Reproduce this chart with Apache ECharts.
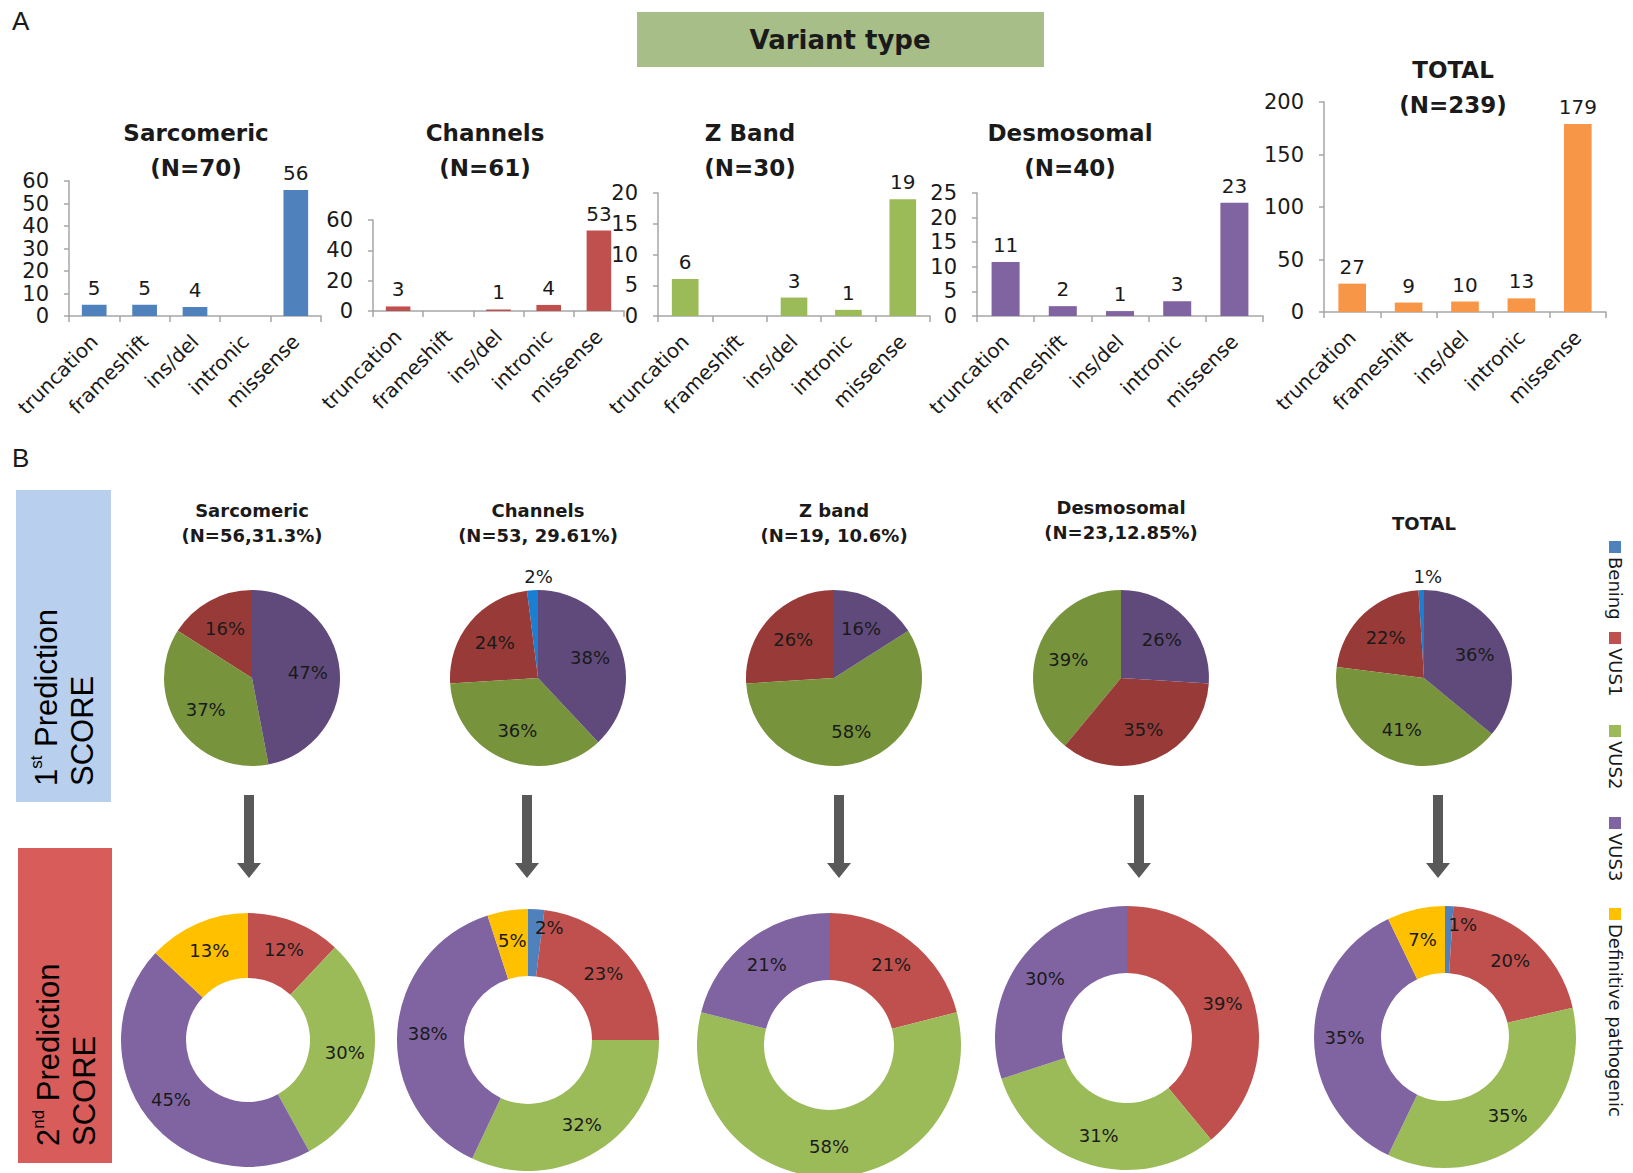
<!DOCTYPE html>
<html>
<head>
<meta charset="utf-8">
<script src="https://cdn.jsdelivr.net/npm/echarts@6/dist/echarts.min.js"></script>
<style>
  html, body { margin: 0; padding: 0; background: #fff; }
  #chart { width: 1633px; height: 1173px; }
</style>
</head>
<body>
<div id="chart"></div>
<script>
// --- panel A: variant type counts
const barCats = ['truncation', 'frameshift', 'ins/del', 'intronic', 'missense']
const sarcomeric = [5, 5, 4, 0, 56]
const channels = [3, 0, 1, 4, 53]
const zband = [6, 0, 3, 1, 19]
const desmosomal = [11, 2, 1, 3, 23]
const total = [27, 9, 10, 13, 179]
const yMax = [60, 60, 20, 25, 200]
const yStep = [10, 20, 5, 5, 50]
const barTitles = [
  ['Sarcomeric', '(N=70)'],
  ['Channels', '(N=61)'],
  ['Z Band', '(N=30)'],
  ['Desmosomal', '(N=40)'],
  ['TOTAL', '(N=239)']
]

// --- panel B: prediction scores (%), order = pieCats
const pieCats = ['Bening', 'VUS1', 'VUS2', 'VUS3', 'Definitive pathogenic']
const firstSarcomeric = [0, 16, 37, 47]
const firstChannels = [2, 24, 36, 38]
const firstZband = [0, 26, 58, 16]
const firstDesmosomal = [0, 35, 39, 26]
const firstTotal = [1, 22, 41, 36]
const secondSarcomeric = [0, 12, 30, 45, 13]
const secondChannels = [2, 23, 32, 38, 5]
const secondZband = [0, 21, 58, 21, 0]
const secondDesmosomal = [0, 39, 31, 30, 0]
const secondTotal = [1, 20, 35, 35, 7]
const pieTitles = [
  ['Sarcomeric', '(N=56,31.3%)'],
  ['Channels', '(N=53, 29.61%)'],
  ['Z band', '(N=19, 10.6%)'],
  ['Desmosomal', '(N=23,12.85%)'],
  ['TOTAL']
]

const barColors = ['#4f81bd', '#c0504d', '#9bbb59', '#8064a2', '#f79646']
const firstColors = ['#1a7fd2', '#983a37', '#77933c', '#5f4a7b']
const secondColors = ['#4f81bd', '#c0504d', '#9bbb59', '#8064a2', '#ffc000']

const FONT = '"DejaVu Sans", sans-serif'
const ARIAL = '"Liberation Sans", Arial, sans-serif'
const AXIS = '#a6a6a6'
const INK = '#1a1a1a'

const chart = echarts.init(document.getElementById('chart'), null, { renderer: 'svg' })

const barSets = [sarcomeric, channels, zband, desmosomal, total]
const grids = [
  { left: 69, top: 181, width: 252, height: 135 },
  { left: 373, top: 220, width: 251, height: 91 },
  { left: 658, top: 193, width: 272, height: 123 },
  { left: 977, top: 193, width: 286, height: 123 },
  { left: 1324, top: 102, width: 282, height: 210 }
]
const titleX = [196, 485, 750, 1070, 1453]
const titleY = [133, 133, 133, 133, 70]

const xAxes = grids.map((g, i) => ({
  type: 'category',
  gridIndex: i,
  data: barCats,
  axisLine: { lineStyle: { color: AXIS, width: 1.5 } },
  axisTick: { show: true, length: 6, lineStyle: { color: AXIS, width: 1.5 } },
  axisLabel: { rotate: 45, interval: 0, fontSize: 20, color: INK, fontFamily: FONT, margin: 22 }
}))
const yAxes = grids.map((g, i) => ({
  type: 'value',
  gridIndex: i,
  min: 0,
  max: yMax[i],
  interval: yStep[i],
  axisLine: { show: true, lineStyle: { color: AXIS, width: 1.5 } },
  axisTick: { show: true, length: 5, lineStyle: { color: AXIS, width: 1.5 } },
  splitLine: { show: false },
  axisLabel: { fontSize: 21, color: INK, fontFamily: FONT, margin: 20 }
}))
const barSeries = barSets.map((vals, i) => ({
  type: 'bar',
  xAxisIndex: i,
  yAxisIndex: i,
  data: vals,
  barWidth: '49%',
  itemStyle: { color: barColors[i] },
  label: {
    show: true,
    position: 'top',
    distance: 7,
    fontSize: 20,
    color: INK,
    fontFamily: FONT,
    formatter: (p) => (p.value ? String(p.value) : '')
  }
}))

// pies
const pieX = [252, 538, 834, 1121, 1424]
const pieY = 678
const pieR = 88
const firstSets = [firstSarcomeric, firstChannels, firstZband, firstDesmosomal, firstTotal]
const firstOrder = [[0, 1, 2, 3], [0, 1, 2, 3], [0, 1, 2, 3], [2, 1, 3], [0, 1, 2, 3]]

const donutX = [248, 528, 829, 1127, 1445]
const donutY = [1040, 1040, 1045, 1038, 1037]
const donutR = [127, 131, 132, 132, 131]
const secondSets = [secondSarcomeric, secondChannels, secondZband, secondDesmosomal, secondTotal]

const pieLabel = { fontSize: 18, color: INK, fontFamily: FONT, formatter: '{c}%' }
// put the outside labels of the thin slices just over the slice
const centreOutside = (p) => ({
  dx: p.align === 'right' ? p.labelRect.width / 2 + 12 : p.align === 'left' ? -p.labelRect.width / 2 + 12 : 0
})

const pieSeries = []
firstSets.forEach((vals, i) => {
  const items = firstOrder[i]
    .filter((k) => vals[k] > 0)
    .map((k) => ({ name: pieCats[k], value: vals[k], itemStyle: { color: firstColors[k] } }))
  pieSeries.push({
    type: 'pie',
    center: [pieX[i], pieY],
    radius: pieR,
    startAngle: 90,
    clockwise: false,
    silent: true,
    label: { show: false },
    labelLine: { show: false },
    data: items
  })
  // label layer, labels sit ~0.6 of the radius like the original
  pieSeries.push({
    type: 'pie',
    center: [pieX[i], pieY],
    radius: [18, pieR],
    startAngle: 90,
    clockwise: false,
    silent: true,
    avoidLabelOverlap: false,
    itemStyle: { color: 'rgba(0,0,0,0)' },
    label: Object.assign({ show: true, position: 'inside' }, pieLabel),
    labelLine: { show: false, length: 14, length2: 0 },
    labelLayout: centreOutside,
    data: items.map((d) => ({
      name: d.name,
      value: d.value,
      label: d.value < 3 ? { position: 'outside' } : undefined
    }))
  })
})

secondSets.forEach((vals, i) => {
  const items = vals
    .map((v, k) => ({
      name: pieCats[k],
      value: v,
      itemStyle: { color: secondColors[k] },
      label: v < 3 ? { position: 'outside', distanceToLabelLine: 0 } : undefined
    }))
    .filter((d) => d.value > 0)
  pieSeries.push({
    type: 'pie',
    center: [donutX[i], donutY[i]],
    radius: [Math.round(donutR[i] * 0.49), donutR[i]],
    startAngle: 90,
    clockwise: true,
    silent: true,
    avoidLabelOverlap: false,
    label: Object.assign({ show: true, position: 'inside' }, pieLabel),
    labelLine: { show: false, length: -18, length2: 0 },
    data: items
  })
})

// static decorations
const graphics = []
const txt = (x, y, text, size, opts) => graphics.push(Object.assign({
  type: 'text',
  x: x,
  y: y,
  silent: true,
  style: Object.assign({
    text: text,
    fontSize: size,
    fontFamily: FONT,
    fill: INK,
    align: 'center',
    textAlign: 'center',
    verticalAlign: 'middle',
    textVerticalAlign: 'middle'
  }, opts && opts.style)
}, opts && opts.el))

txt(12, 21, 'A', 26, { style: { align: 'left', textAlign: 'left', fontFamily: ARIAL } })
txt(12, 458, 'B', 26, { style: { align: 'left', textAlign: 'left', fontFamily: ARIAL } })

graphics.push({
  type: 'rect', silent: true,
  shape: { x: 637, y: 12, width: 407, height: 55 },
  style: { fill: '#a8be88' }
})
txt(840, 40, 'Variant type', 26, { style: { fontWeight: 'bold' } })

barTitles.forEach((t, i) => {
  txt(titleX[i], titleY[i], t[0], 23, { style: { fontWeight: 'bold' } })
  txt(titleX[i], titleY[i] + 35, t[1], 23, { style: { fontWeight: 'bold' } })
})

const pieTitleY = [510, 510, 510, 507, 523]
pieTitles.forEach((t, i) => {
  t.forEach((line, j) => {
    txt(pieX[i], pieTitleY[i] + j * 25, line, 18, { style: { fontWeight: 'bold' } })
  })
})

// side labels
graphics.push({
  type: 'rect', silent: true,
  shape: { x: 16, y: 490, width: 95, height: 312 },
  style: { fill: '#b8cfee' }
})
graphics.push({
  type: 'rect', silent: true,
  shape: { x: 18, y: 848, width: 94, height: 315 },
  style: { fill: '#d85c5a' }
})
const sideRich = {
  n: { fontSize: 31, fontFamily: ARIAL, color: INK, lineHeight: 36 },
  s: { fontSize: 17, fontFamily: ARIAL, color: INK, lineHeight: 36, verticalAlign: 'top' }
}
graphics.push({
  type: 'text', silent: true, x: 64, y: 786, rotation: Math.PI / 2,
  style: {
    text: '{n|1}{s|st}{n| Prediction}\n{n|SCORE}',
    rich: sideRich,
    align: 'left', textAlign: 'left', verticalAlign: 'middle', textVerticalAlign: 'middle'
  }
})
graphics.push({
  type: 'text', silent: true, x: 66, y: 1146, rotation: Math.PI / 2,
  style: {
    text: '{n|2}{s|nd}{n| Prediction}\n{n|SCORE}',
    rich: sideRich,
    align: 'left', textAlign: 'left', verticalAlign: 'middle', textVerticalAlign: 'middle'
  }
})

// arrows between the two rows
const arrowX = [249, 527, 839, 1139, 1438]
arrowX.forEach((c) => {
  graphics.push({
    type: 'polygon', silent: true,
    shape: {
      points: [[c - 5, 795], [c + 5, 795], [c + 5, 863], [c + 12, 863], [c, 878], [c - 12, 863], [c - 5, 863]]
    },
    style: { fill: '#595959' }
  })
})

// vertical legend on the right
const legendY = [541, 632, 725, 817, 908]
pieCats.forEach((name, k) => {
  graphics.push({
    type: 'rect', silent: true,
    shape: { x: 1609, y: legendY[k], width: 12, height: 12 },
    style: { fill: secondColors[k] }
  })
  graphics.push({
    type: 'text', silent: true, x: 1615, y: legendY[k] + 16, rotation: -Math.PI / 2,
    style: {
      text: name, fontSize: 18, fontFamily: FONT, fill: INK,
      align: 'left', textAlign: 'left', verticalAlign: 'middle', textVerticalAlign: 'middle'
    }
  })
})

chart.setOption({
  animation: false,
  backgroundColor: '#fff',
  textStyle: { fontFamily: FONT },
  grid: grids,
  xAxis: xAxes,
  yAxis: yAxes,
  series: barSeries.concat(pieSeries),
  graphic: { elements: graphics }
})
</script>
</body>
</html>
